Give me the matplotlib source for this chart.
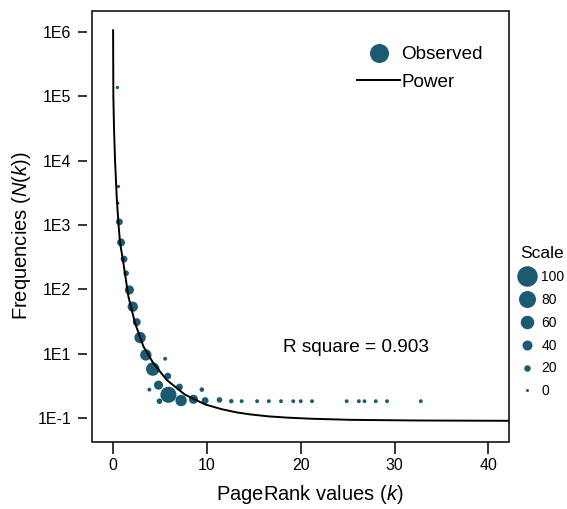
import matplotlib
matplotlib.use("Agg")
import matplotlib.pyplot as plt
from matplotlib.lines import Line2D
from matplotlib.patches import Rectangle

plt.rcParams['font.family'] = ['Liberation Sans', 'DejaVu Sans']
plt.rcParams['mathtext.fontset'] = 'custom'
plt.rcParams['mathtext.rm'] = 'Liberation Sans'
plt.rcParams['mathtext.it'] = 'Liberation Sans:italic'

# y values are given in tick slots of the chart (0 -> "1E-1", 1 -> "1E1", ... 6 -> "1E6")
freq_ticks = [0, 1, 2, 3, 4, 5, 6]
freq_labels = ['1E-1', '1E1', '1E2', '1E3', '1E4', '1E5', '1E6']
k_ticks = [0, 10, 20, 30, 40]

# observed points: PageRank value, frequency slot, scale weight (0-100)
obs_k = [0.46, 0.57, 0.50, 0.67, 0.85, 1.17, 1.39, 1.74, 2.10, 2.52,
         2.88, 3.49, 5.55, 4.23, 5.83, 4.84, 7.07, 3.87, 9.46, 5.90,
         7.25, 4.94, 8.57, 9.81, 11.34, 12.6, 13.7, 15.35, 16.6, 17.9,
         19.2, 20.0, 21.2, 24.9, 26.2, 26.8, 28.0, 29.2, 32.8]
obs_n = [5.14, 3.60, 3.34, 3.05, 2.73, 2.47, 2.25, 1.99, 1.73, 1.49,
         1.25, 0.98, 0.92, 0.76, 0.65, 0.51, 0.48, 0.44, 0.44, 0.36,
         0.27, 0.26, 0.29, 0.27, 0.28, 0.26, 0.26, 0.26, 0.26, 0.26,
         0.26, 0.26, 0.26, 0.26, 0.26, 0.26, 0.26, 0.26, 0.26]
obs_w = [2, 2, 2, 22, 28, 22, 15, 35, 42, 28,
         48, 48, 5, 60, 22, 35, 22, 5, 9, 75,
         48, 15, 35, 22, 15, 8, 5, 5, 5, 5,
         5, 5, 5, 5, 5, 5, 5, 5, 5]

# fitted power curve
fit_k = [0.0, 0.03, 0.1, 0.21, 0.4, 0.6, 0.75, 1.10, 1.63, 2.35, 3.24,
         4.3, 5.72, 7.68, 9.81, 11.6, 13.2, 14.6, 16.5, 18.5, 21.0,
         25.3, 32.4, 42.2]
fit_n = [6.03, 5.0, 4.5, 4.0, 3.4, 2.97, 2.72, 2.41, 1.89, 1.47, 1.11,
         0.85, 0.59, 0.36, 0.21, 0.135, 0.085, 0.055, 0.025, 0.005, -0.012,
         -0.03, -0.04, -0.045]

scale_vals = [100, 80, 60, 40, 20, 0]
r_square = 0.903

dot_color = '#1c5a71'
W, H = 567, 509


def msize(v):
    # diameter in px -> points (dpi 100)
    return (3.0 + 0.175 * v) * 0.72


fig = plt.figure(figsize=(W / 100, H / 100), dpi=100)
ax = fig.add_axes([91.5 / W, 1 - 441.7 / H, 417.5 / W, 430.7 / H])

ax.scatter(obs_k, obs_n, s=[msize(w) ** 2 for w in obs_w], color=dot_color,
           edgecolors='none', zorder=2)
ax.plot(fit_k, fit_n, color='black', lw=1.4, zorder=3)

ax.set_xlim(-2.3, 42.2)
ax.set_ylim(-0.37, 6.33)
ax.set_xticks(k_ticks)
ax.set_yticks(freq_ticks)
ax.set_yticklabels(freq_labels)

for s in ax.spines.values():
    s.set_visible(False)
ax.spines['left'].set_position(('outward', 3))
ax.add_patch(Rectangle((0, 0), 1, 1, transform=ax.transAxes, fill=False,
                       lw=1.1, color='black', clip_on=False, zorder=5))
ax.tick_params(axis='y', length=6.5, width=1.1, pad=5, labelsize=11.5)
ax.tick_params(axis='x', length=8.5, width=1.1, pad=3.5, labelsize=11.5)

ax.text(18.1, 1.09, f'R square = {r_square}', fontsize=13.7, ha='left', va='center')

fig.text(310 / W, 1 - 494 / H, r'PageRank values ($\mathit{k}$)', fontsize=14.5,
         ha='center', va='center')
fig.text(22 / W, 1 - 236 / H, r'Frequencies ($\mathit{N}$($\mathit{k}$))', fontsize=14.5,
         ha='center', va='center', rotation=90)

# top legend
obs_h = Line2D([], [], ls='none', marker='o', markersize=13.7, color=dot_color,
               markeredgewidth=0)
pow_h = Line2D([], [], color='black', lw=1.4)
ax.legend([obs_h, pow_h], ['Observed', 'Power'], loc='upper left',
          bbox_to_anchor=(357 / W, 1 - 46 / H), bbox_transform=fig.transFigure,
          frameon=False, fontsize=13.6, handlelength=2.28, handletextpad=0.08,
          labelspacing=0.55, borderpad=0, borderaxespad=0)

# size scale legend
scale_h = [Line2D([], [], ls='none', marker='o', markersize=msize(v), color=dot_color,
                  markeredgewidth=0) for v in scale_vals]
fig.legend(scale_h, [str(v) for v in scale_vals], loc='upper left',
           bbox_to_anchor=(519 / W, 1 - 246 / H), frameon=False, fontsize=10,
           title='Scale', title_fontsize=12.5, handlelength=1.2, handletextpad=0.4,
           labelspacing=0.64, borderpad=0, borderaxespad=0)

fig.savefig('out.png', dpi=100)
